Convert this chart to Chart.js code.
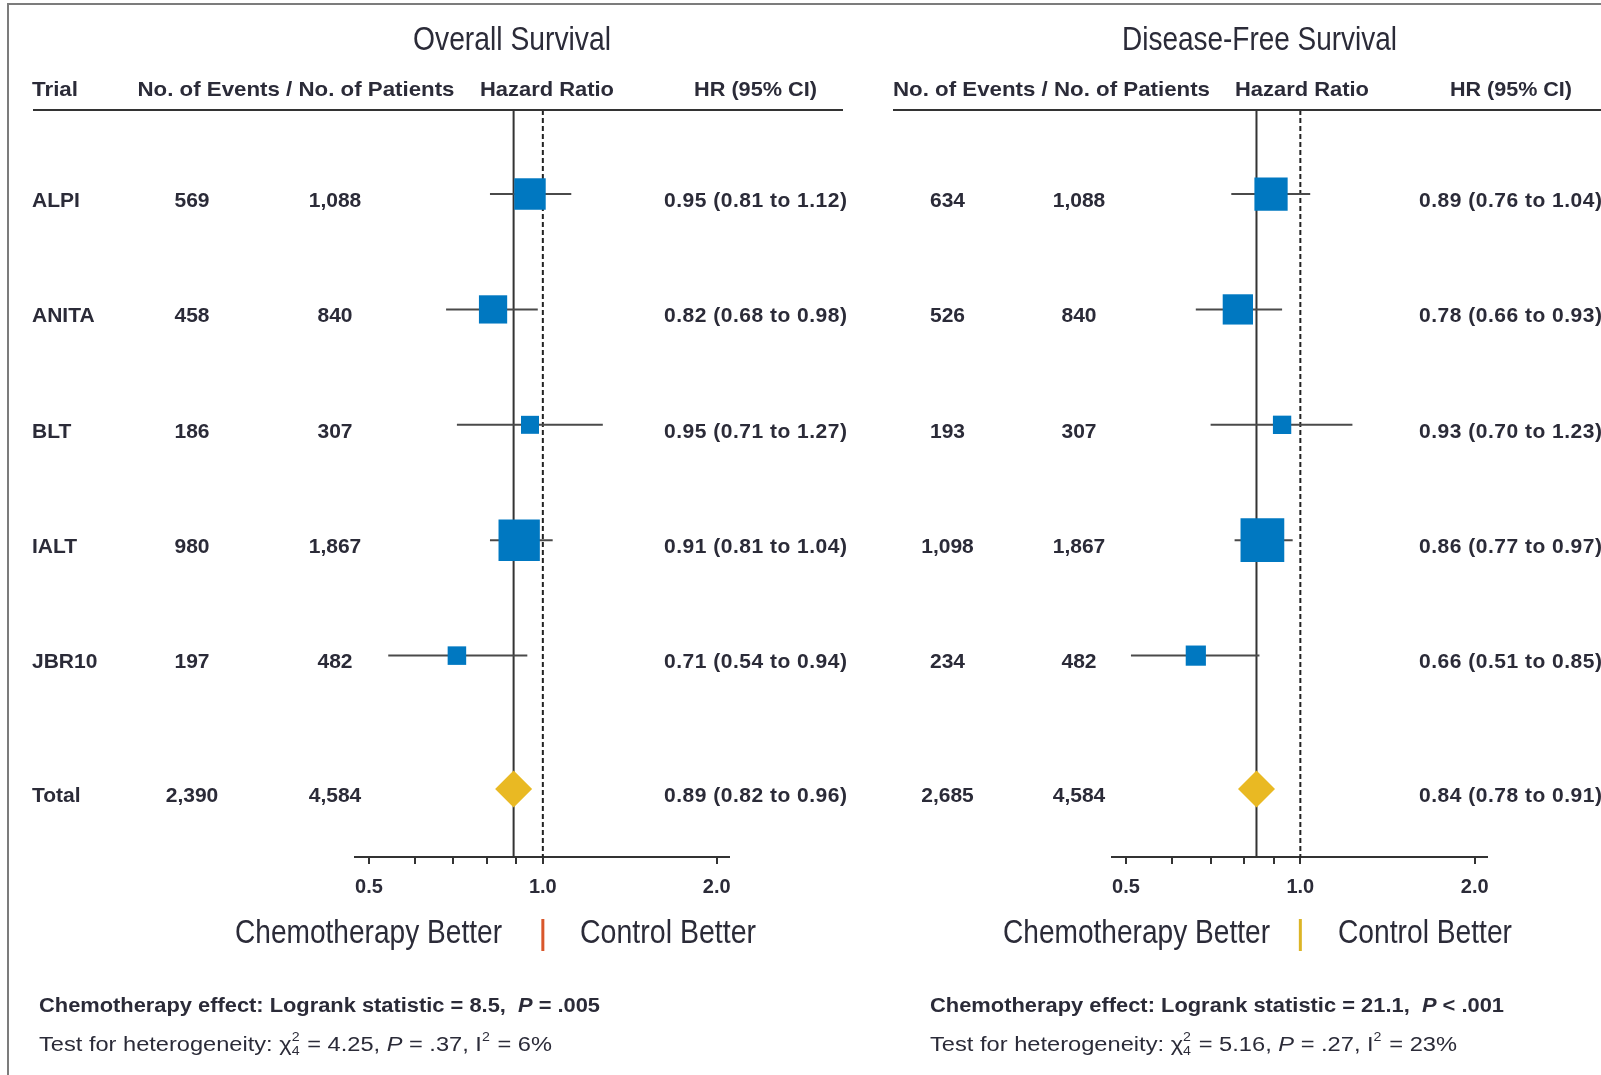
<!DOCTYPE html>
<html lang="en">
<head>
<meta charset="UTF-8">
<title>Adjuvant Chemotherapy Forest Plot</title>
<script src="https://cdn.jsdelivr.net/npm/chart.js@4.4.0/dist/chart.umd.min.js"></script>
<style>
  html, body { margin: 0; padding: 0; background: #fff; }
  #page { position: relative; width: 1601px; height: 1075px; overflow: hidden; background: #fff; }
  #frame { position: absolute; left: 7px; top: 3px; width: 1700px; height: 1200px;
           border-left: 2px solid #7c7c7c; border-top: 2px solid #7c7c7c; }
  canvas { position: absolute; left: 0; top: 0; }
</style>
</head>
<body>
<div id="page">
  <div id="frame"></div>
  <canvas id="osChart" width="1601" height="1075"></canvas>
  <canvas id="dfsChart" width="1601" height="1075"></canvas>
</div>
<script>
// ---- data ----
const trials = ['ALPI', 'ANITA', 'BLT', 'IALT', 'JBR10'];
const patients = [1088, 840, 307, 1867, 482];
const totalPatients = 4584;
const rows = [0, 1, 2, 3, 4];
const totalRow = 5.156;

// overall survival
const osEvents = [569, 458, 186, 980, 197];
const osHR = [0.95, 0.82, 0.95, 0.91, 0.71];
const osLow = [0.81, 0.68, 0.71, 0.81, 0.54];
const osHigh = [1.12, 0.98, 1.27, 1.04, 0.94];
const osTotal = [2390, 0.89, 0.82, 0.96];          // events, HR, low, high
const osStats = ['8.5', '=', '.005', '4.25', '.37', '6%'];

// disease-free survival
const dfsEvents = [634, 526, 193, 1098, 234];
const dfsHR = [0.89, 0.78, 0.93, 0.86, 0.66];
const dfsLow = [0.76, 0.66, 0.70, 0.77, 0.51];
const dfsHigh = [1.04, 0.93, 1.23, 0.97, 0.85];
const dfsTotal = [2685, 0.84, 0.78, 0.91];
const dfsStats = ['21.1', '<', '.001', '5.16', '.27', '23%'];

// x axis ticks (log scale)
const xTicks = [0.5, 0.6, 0.7, 0.8, 0.9, 1.0, 2.0];
const xTickLabels = ['0.5', '', '', '', '', '1.0', '2.0'];

// ---- styling ----
const textColor = '#2b2b38';
const blue = '#0078c1';
const gold = '#e9b923';
const SANS = '"Liberation Sans", Arial, sans-serif';
const NARROW = '"Liberation Sans Narrow", "Arial Narrow", "Liberation Sans", sans-serif';
const yMin = -0.728, yMax = 5.745;
const markerScale = 1.32;

const panels = [
  {
    canvas: 'osChart', title: 'Overall Survival', titleX: 512, titleW: 198,
    events: osEvents, hr: osHR, low: osLow, high: osHigh, total: osTotal, stats: osStats,
    area: [355, 729], rule: [33, 843],
    heads: [['Trial', 32, 'left', 46], ['No. of Events / No. of Patients', 296, 'center', 317],
            ['Hazard Ratio', 547, 'center', 134], ['HR (95% CI)', 755.5, 'center', 123]],
    trialX: 32, eventsX: 192, patientsX: 335, ciX: 664,
    chemo: [502, 267], control: [580, 176], sepColor: '#d9572b',
    footX: 39, footW: [561, 513]
  },
  {
    canvas: 'dfsChart', title: 'Disease-Free Survival', titleX: 1259.5, titleW: 275,
    events: dfsEvents, hr: dfsHR, low: dfsLow, high: dfsHigh, total: dfsTotal, stats: dfsStats,
    area: [1112, 1487], rule: [893, 1601],
    heads: [['No. of Events / No. of Patients', 1051.5, 'center', 317],
            ['Hazard Ratio', 1302, 'center', 134], ['HR (95% CI)', 1511, 'center', 122]],
    trialX: null, eventsX: 947.5, patientsX: 1079, ciX: 1419,
    chemo: [1270, 267], control: [1338, 174], sepColor: '#dcb526',
    footX: 930, footW: [574, 527]
  }
];

const num = v => v.toLocaleString('en-US');
const ci = (h, l, u) => `${h.toFixed(2)} (${l.toFixed(2)} to ${u.toFixed(2)})`;

// draw text stretched/squeezed to a given width
function fitText(ctx, text, x, y, font, width, align) {
  ctx.save();
  ctx.font = font;
  const w = ctx.measureText(text).width;
  ctx.translate(x, y);
  ctx.scale(width ? width / w : 1, 1);
  ctx.textAlign = align || 'left';
  ctx.textBaseline = 'middle';
  ctx.fillText(text, 0, 0);
  ctx.restore();
}

// rich text line (bold / italic / super+subscript runs)
function drawRuns(ctx, runs, x, y, width) {
  const fonts = {
    b: 'bold 20px ' + SANS, bi: 'italic bold 20px ' + SANS,
    r: '20px ' + SANS, i: 'italic 20px ' + SANS, s: '12px ' + SANS
  };
  ctx.save();
  ctx.textBaseline = 'middle';
  ctx.textAlign = 'left';
  const widthOf = r => {
    if (r[1] === 'ss' || r[1] === 'sup') {
      ctx.font = fonts.s;
      return Math.max(...[].concat(r[0]).map(t => ctx.measureText(t).width)) + 1;
    }
    ctx.font = fonts[r[1]];
    return ctx.measureText(r[0]).width;
  };
  const total = runs.reduce((a, r) => a + widthOf(r), 0);
  ctx.translate(x, y);
  ctx.scale(width / total, 1);
  let cx = 0;
  runs.forEach(r => {
    const w = widthOf(r);
    if (r[1] === 'ss') {
      ctx.fillText(r[0][0], cx, -7);
      ctx.fillText(r[0][1], cx, 7);
    } else if (r[1] === 'sup') {
      ctx.fillText(r[0], cx, -7);
    } else {
      ctx.fillText(r[0], cx, 0);
    }
    cx += w;
  });
  ctx.restore();
}

function panelText(p) {
  return {
    id: 'panelText',
    afterDraw(chart) {
      const ctx = chart.ctx;
      const ys = chart.scales.y;
      const xs = chart.scales.x;
      ctx.save();
      ctx.fillStyle = textColor;

      // titles and column headers
      fitText(ctx, p.title, p.titleX, 41, '33px ' + NARROW, p.titleW, 'center');
      p.heads.forEach(h => fitText(ctx, h[0], h[1], 90, 'bold 21px ' + SANS, h[3], h[2]));

      ctx.strokeStyle = '#333';
      ctx.lineWidth = 2;
      ctx.beginPath();
      ctx.moveTo(p.rule[0], 110);
      ctx.lineTo(p.rule[1], 110);
      ctx.stroke();

      // table rows
      ctx.font = 'bold 21px ' + SANS;
      ctx.textBaseline = 'middle';
      const rowText = (name, ev, pts, ciStr, row) => {
        const y = ys.getPixelForValue(row) + 7;
        if (p.trialX !== null) { ctx.textAlign = 'left'; ctx.fillText(name, p.trialX, y); }
        ctx.textAlign = 'center';
        ctx.fillText(num(ev), p.eventsX, y);
        ctx.fillText(num(pts), p.patientsX, y);
        ctx.textAlign = 'left';
        ctx.letterSpacing = '0.5px';
        ctx.fillText(ciStr, p.ciX, y);
        ctx.letterSpacing = '0px';
      };
      trials.forEach((t, i) => rowText(t, p.events[i], patients[i], ci(p.hr[i], p.low[i], p.high[i]), rows[i]));
      rowText('Total', p.total[0], totalPatients, ci(p.total[1], p.total[2], p.total[3]), totalRow);

      // direction labels
      const sepX = xs.getPixelForValue(1);
      fitText(ctx, 'Chemotherapy Better', p.chemo[0], 934, '33px ' + NARROW, p.chemo[1], 'right');
      fitText(ctx, 'Control Better', p.control[0], 934, '33px ' + NARROW, p.control[1], 'left');
      ctx.fillStyle = p.sepColor;
      ctx.fillRect(sepX - 1.5, 919, 3, 32);

      // footnotes
      ctx.fillStyle = textColor;
      const s = p.stats;
      drawRuns(ctx, [['Chemotherapy effect: Logrank statistic = ' + s[0] + ',  ', 'b'], ['P', 'bi'],
                     [' ' + s[1] + ' ' + s[2], 'b']], p.footX, 1006, p.footW[0]);
      drawRuns(ctx, [['Test for heterogeneity: \u03c7', 'r'], [['2', '4'], 'ss'], [' = ' + s[3] + ', ', 'r'],
                     ['P', 'i'], [' = ' + s[4] + ', I', 'r'], ['2', 'sup'], [' = ' + s[5], 'r']],
               p.footX, 1045, p.footW[1]);
      ctx.restore();
    }
  };
}

function buildDatasets(p) {
  const sets = [];
  sets.push({
    data: p.hr.map((v, i) => ({ x: v, y: rows[i] })),
    pointStyle: 'rect',
    pointRadius: c => markerScale * Math.sqrt(p.events[c.dataIndex]) / Math.SQRT2,
    backgroundColor: blue, pointBorderWidth: 0, borderWidth: 0, order: 0
  });
  sets.push({
    data: [{ x: p.total[1], y: totalRow }],
    pointStyle: 'rectRot', pointRadius: 18.5,
    backgroundColor: gold, pointBorderWidth: 0, borderWidth: 0, order: 0
  });
  p.low.forEach((l, i) => sets.push({
    data: [{ x: l, y: rows[i] }, { x: p.high[i], y: rows[i] }],
    showLine: true, pointRadius: 0, borderColor: '#4a4a4a', borderWidth: 2, order: 1
  }));
  sets.push({
    data: [{ x: p.total[1], y: yMin }, { x: p.total[1], y: yMax }],
    showLine: true, pointRadius: 0, borderColor: '#333', borderWidth: 2, order: 2
  });
  sets.push({
    data: [{ x: 1, y: yMin }, { x: 1, y: yMax }],
    showLine: true, pointRadius: 0, borderColor: '#222', borderWidth: 2, borderDash: [5, 3], order: 2
  });
  return sets;
}

panels.forEach(p => {
  new Chart(document.getElementById(p.canvas), {
    type: 'scatter',
    data: { datasets: buildDatasets(p) },
    options: {
      responsive: false,
      animation: false,
      devicePixelRatio: 1,
      layout: { padding: { left: p.area[0], right: 1601 - p.area[1], top: 110, bottom: 168 } },
      plugins: { legend: { display: false }, tooltip: { enabled: false } },
      scales: {
        x: {
          type: 'logarithmic',
          min: 0.473, max: 2.1,
          afterBuildTicks: s => { s.ticks = xTicks.map(v => ({ value: v })); },
          afterFit: s => { s.height = 50; },
          ticks: {
            autoSkip: false, maxRotation: 0, padding: 11,
            color: textColor,
            font: { family: SANS, size: 20, weight: 'bold' },
            callback: (v, i) => xTickLabels[i]
          },
          grid: { drawOnChartArea: false, drawTicks: true, tickLength: 7, color: '#333', lineWidth: 2 },
          border: { display: true, color: '#333', width: 2 }
        },
        y: { type: 'linear', display: false, reverse: true, min: yMin, max: yMax }
      }
    },
    plugins: [panelText(p)]
  });
});
</script>
</body>
</html>
